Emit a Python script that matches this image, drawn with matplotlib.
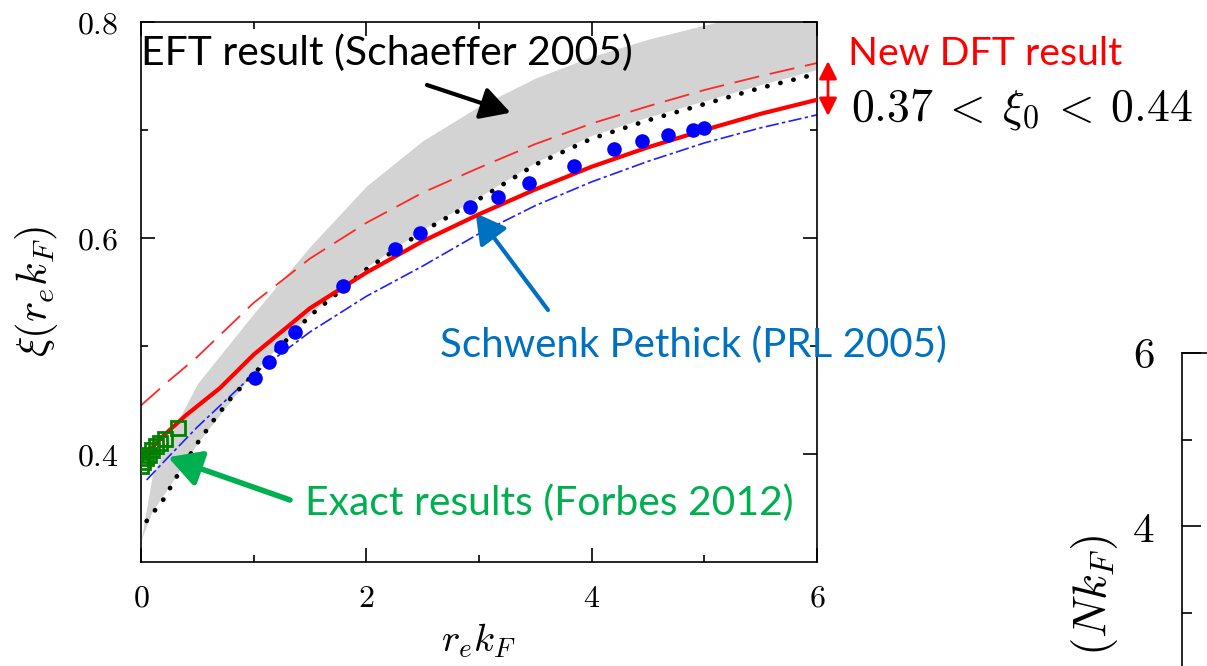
import matplotlib
matplotlib.use('Agg')
import matplotlib.pyplot as plt
from matplotlib.ticker import FixedLocator

plt.rcParams['mathtext.fontset'] = 'cm'
plt.rcParams['font.family'] = ['Lato', 'DejaVu Sans']

W, H = 1207, 666

# EFT band (Schaeffer 2005)
band_x = [0.0, 0.1, 0.25, 0.5, 1.0, 1.5, 2.0, 2.5, 3.0, 3.5, 4.0, 4.5, 5.0, 5.5, 6.0]
band_lo = [0.32, 0.347, 0.37, 0.41, 0.476, 0.53, 0.573, 0.608, 0.638, 0.67, 0.695, 0.712, 0.727, 0.742, 0.756]
band_hi = [0.32, 0.38, 0.415, 0.465, 0.53, 0.592, 0.648, 0.69, 0.722, 0.748, 0.768, 0.784, 0.797, 0.81, 0.82]

# dotted black curve
dot_x = [0.05, 0.2, 0.35, 0.5, 0.65, 0.8, 1.0, 1.5, 2.0, 2.5, 3.0, 3.5, 4.0, 4.5, 5.0, 5.5, 6.0]
dot_y = [0.338, 0.358, 0.385, 0.41, 0.432, 0.452, 0.474, 0.528, 0.571, 0.606, 0.636, 0.668, 0.692, 0.709, 0.724, 0.739, 0.752]

# new DFT result (solid red)
dft_x = [0.0, 0.2, 0.4, 0.7, 1.0, 1.5, 2.0, 2.5, 3.0, 3.5, 4.0, 4.5, 5.0, 5.5, 6.0]
dft_y = [0.395, 0.417, 0.436, 0.461, 0.492, 0.535, 0.568, 0.597, 0.622, 0.645, 0.666, 0.684, 0.70, 0.715, 0.728]

# red dashed
rdash_x = [0.0, 0.25, 0.5, 1.0, 1.5, 2.0, 2.5, 3.0, 3.5, 4.0, 4.5, 5.0, 5.5, 6.0]
rdash_y = [0.445, 0.468, 0.49, 0.54, 0.581, 0.614, 0.642, 0.665, 0.687, 0.706, 0.722, 0.737, 0.75, 0.762]

# blue dash-dot
bdash_x = [0.05, 0.25, 0.5, 1.0, 1.5, 2.0, 2.5, 3.0, 3.5, 4.0, 4.5, 5.0, 5.5, 6.0]
bdash_y = [0.376, 0.398, 0.425, 0.474, 0.513, 0.546, 0.574, 0.604, 0.630, 0.652, 0.671, 0.688, 0.702, 0.714]

# Schwenk Pethick points
sp_x = [1.01, 1.14, 1.24, 1.37, 1.79, 2.25, 2.48, 2.92, 3.17, 3.44, 3.84, 4.20, 4.45, 4.68, 4.90, 5.0]
sp_y = [0.470, 0.485, 0.499, 0.513, 0.556, 0.590, 0.605, 0.629, 0.638, 0.651, 0.667, 0.682, 0.690, 0.695, 0.700, 0.702]

# exact results (Forbes 2012)
ex_x = [0.0, 0.02, 0.04, 0.07, 0.1, 0.13, 0.17, 0.21, 0.33]
ex_y = [0.389, 0.393, 0.396, 0.399, 0.404, 0.407, 0.410, 0.414, 0.424]

xticks = [0, 2, 4, 6]
yticks = [0.4, 0.6, 0.8]
yticks2 = [4, 6]


def fxy(px, py):
    return (px / W, 1 - py / H)


fig = plt.figure(figsize=(W / 100, H / 100), dpi=100)
ax = fig.add_axes([141 / W, 1 - 562 / H, 676 / W, 540 / H])

ax.fill_between(band_x, band_lo, band_hi, color='#d3d3d3', lw=0, zorder=1)
ax.plot(rdash_x, rdash_y, color='#ff2828', lw=1.3, dashes=(14, 6), zorder=2)
ax.plot(dot_x, dot_y, color='black', lw=3.4, linestyle=(0, (0.05, 2.8)),
        dash_capstyle='round', zorder=3)
ax.plot(bdash_x, bdash_y, color='#2020ff', lw=1.2, dashes=(8, 2, 2, 2), zorder=2)
ax.plot(dft_x, dft_y, color='#ff0000', lw=3, zorder=4)
ax.plot(sp_x, sp_y, 'o', color='#0000ff', ms=10.5, mec='none', zorder=5)
ax.plot(ex_x, ex_y, 's', mfc='none', mec='#008000', ms=10.5, mew=2, zorder=6)

ax.set_xlim(0, 6)
ax.set_ylim(0.3, 0.8)
ax.xaxis.set_major_locator(FixedLocator(xticks))
ax.xaxis.set_minor_locator(FixedLocator([1, 3, 5]))
ax.yaxis.set_major_locator(FixedLocator(yticks))
ax.yaxis.set_minor_locator(FixedLocator([0.5, 0.7]))
ax.set_xticklabels(['$%g$' % t for t in xticks], fontsize=23)
ax.set_yticklabels(['$%g$' % t for t in yticks], fontsize=23)
ax.tick_params(which='both', direction='in', top=True, right=True, width=1.2)
ax.tick_params(which='major', length=10)
ax.tick_params(which='minor', length=5)
ax.tick_params(axis='x', pad=15)
ax.tick_params(axis='y', pad=16)
for s in ax.spines.values():
    s.set_linewidth(1.2)
ax.set_xlabel(r'$r_e k_F$', fontsize=28, labelpad=6)
ax.set_ylabel(r'$\xi(r_e k_F)$', fontsize=31, labelpad=12)

# annotations
fig.text(*fxy(141, 65), 'EFT result (Schaeffer 2005)', fontsize=29.4,
         color='black', va='baseline', ha='left')
ax.annotate('', xy=(3.28, 0.716), xycoords='data', xytext=fxy(427, 85),
            textcoords='figure fraction',
            arrowprops=dict(arrowstyle='-|>,head_length=0.9,head_width=0.5',
                            lw=3, color='black', mutation_scale=20,
                            shrinkA=0, shrinkB=0))

fig.text(*fxy(440, 357), 'Schwenk Pethick (PRL 2005)', fontsize=29,
         color='#0070c0', va='baseline', ha='left')
ax.annotate('', xy=(2.97, 0.623), xycoords='data', xytext=fxy(548, 310),
            textcoords='figure fraction',
            arrowprops=dict(arrowstyle='-|>,head_length=0.9,head_width=0.5',
                            lw=3, color='#0070c0', mutation_scale=20,
                            shrinkA=0, shrinkB=0))

fig.text(*fxy(305, 515), 'Exact results (Forbes 2012)', fontsize=29.4,
         color='#00b050', va='baseline', ha='left')
ax.annotate('', xy=(0.24, 0.397), xycoords='data', xytext=fxy(290, 500),
            textcoords='figure fraction',
            arrowprops=dict(arrowstyle='-|>,head_length=0.9,head_width=0.5',
                            lw=4, color='#00b050', mutation_scale=22,
                            shrinkA=0, shrinkB=0))

fig.text(*fxy(848, 65), 'New DFT result', fontsize=28.3, color='#ff0000',
         va='baseline', ha='left')
fig.text(*fxy(851, 120), r'$0.37\:<\:\xi_0\:<\:0.44$', fontsize=33,
         color='black', va='baseline', ha='left')
fig.patches.append(matplotlib.patches.FancyArrowPatch(
    fxy(828, 116), fxy(828, 61), transform=fig.transFigure,
    arrowstyle='<|-|>,head_length=0.9,head_width=0.45', mutation_scale=12,
    lw=2, color='#ff0000', shrinkA=0, shrinkB=0))

# partial second panel at the right edge
ax2 = fig.add_axes([1182 / W, 0, 0.2, (H - 353) / H])
ax2.set_ylim(6 - 313 / 86.5, 6)
ax2.set_xlim(0, 1)
ax2.yaxis.set_major_locator(FixedLocator(yticks2))
ax2.yaxis.set_minor_locator(FixedLocator([3, 5]))
ax2.set_yticklabels(['$%g$' % t for t in yticks2], fontsize=31)
ax2.set_xticks([])
ax2.tick_params(which='both', direction='in', width=1.2)
ax2.tick_params(which='major', length=14, pad=20)
ax2.tick_params(which='minor', length=7)
ax2.spines['bottom'].set_visible(False)
for s in ax2.spines.values():
    s.set_linewidth(1.2)
fig.text(*fxy(1094, 535), r'$(N k_F)$', fontsize=34, rotation=90,
         va='top', ha='center')

fig.savefig('out.png', dpi=100)
